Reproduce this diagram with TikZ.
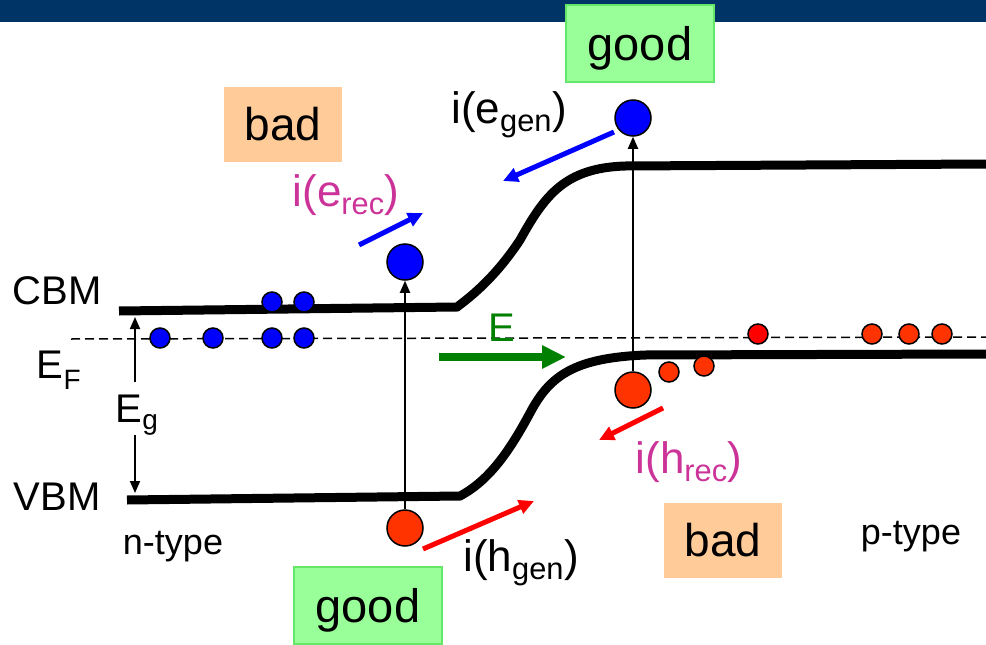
\documentclass[tikz,border=0pt]{standalone}
\usepackage{fontspec}
\setmainfont{Liberation Sans}
\usetikzlibrary{positioning,calc}
\usetikzlibrary{arrows.meta}
\definecolor{BarNavy}{RGB}{0,51,102}
\definecolor{ElecBlue}{RGB}{0,0,255}
\definecolor{HoleRed}{RGB}{255,51,0}
\definecolor{CurRed}{RGB}{255,0,0}
\definecolor{RecPink}{RGB}{204,51,153}
\definecolor{FieldGreen}{RGB}{0,128,0}
\definecolor{GoodFill}{RGB}{153,255,153}
\definecolor{GoodLine}{RGB}{102,230,102}
\definecolor{BadFill}{RGB}{255,204,153}
\tikzset{
  band/.style={draw=black,line width=9pt},
  fermi/.style={draw=black,line width=1.5pt,dash pattern=on 9pt off 5pt},
  elec/.style={circle,draw=black,fill=ElecBlue,line width=1.5pt,minimum size=36pt,inner sep=0pt},
  selec/.style={elec,minimum size=20pt},
  hole/.style={elec,fill=HoleRed},
  shole/.style={hole,minimum size=20pt},
  excite/.style={draw=black,line width=1.8pt,-{Triangle[length=12pt,width=10pt]}},
}
\tikzset{lab/.style={inner sep=0pt,font=\fontsize{40}{44}\selectfont},
  clab/.style={inner sep=0pt,font=\fontsize{44}{48}\selectfont},
  typelab/.style={inner sep=0pt,font=\fontsize{36}{40}\selectfont},
  goodbox/.style={draw=GoodLine,line width=2pt,fill=GoodFill,minimum width=148pt,minimum height=77pt,inner sep=0pt,
    text height=39pt,text depth=4pt,font=\fontsize{47}{50}\selectfont},
  badbox/.style={fill=BadFill,minimum width=118pt,minimum height=75pt,inner sep=0pt,font=\fontsize{46}{50}\selectfont},
  ecur/.style={draw=ElecBlue,line width=5pt,-{Triangle[length=15pt,width=14pt]}},
  hcur/.style={ecur,draw=CurRed},
  field/.style={draw=FieldGreen,line width=8pt,-{Triangle[length=24pt,width=22pt]}}}

\begin{document}
\begin{tikzpicture}[x=1pt,y=-1pt]
\useasboundingbox (0,0) rectangle (986,645);
\fill[BarNavy] (0,0) rectangle (986,22);
% bands
\draw[fermi] (71,339) -- (986,337);
\draw[band] (119,311) -- (457,307) .. controls (480,290) and (500,270) .. (520,240)
  .. controls (545,195) and (565,168) .. (625,166) -- (986,164);
\draw[band] (127,500) -- (460,496) .. controls (490,480) and (510,450) .. (530,413)
  .. controls (550,375) and (575,358) .. (645,355) -- (986,354);
\node[lab] (cbm) at (57,291) {CBM};
\node[lab] (vbm) at (57,497) {VBM};
\node[lab] (ef) at (59,370) {E\textsubscript{F}};
\node[lab] (eg) at (137,415) {E\textsubscript{g}};
\coordinate (egtop) at (135,317);
\coordinate (egbot) at (135,493);
\coordinate (egu) at (135,382);
\coordinate (egl) at (135,435);
\draw[excite] (egu) -- (egtop);
\draw[excite] (egl) -- (egbot);
% carriers
\foreach \x/\y [count=\i] in {160/338,213/338,272/338,304/338,272/302,304/302}
  \node[selec] (ne\i) at (\x,\y) {};
\foreach \x/\y [count=\i] in {669/372,704/366,872/334,909/334,942/334}
  \node[shole] (ph\i) at (\x,\y) {};
\node[shole,fill=CurRed] (ph6) at (758,334) {};
\node[elec] (ecb) at (405,262) {};
\node[elec] (ect) at (633,118) {};
\node[hole] (hvb) at (405,528) {};
\node[hole] (hvt) at (633,390) {};
\draw[excite] (hvb) -- (ecb);
\draw[excite] (hvt) -- (ect);
% currents
\coordinate (egs) at (614,132);
\coordinate (ege) at (503,181);
\coordinate (ers) at (359,245);
\coordinate (ere) at (423,213);
\coordinate (hgs) at (423,549);
\coordinate (hge) at (534,501);
\coordinate (hrs) at (663,408);
\coordinate (hre) at (599,440);
\draw[ecur] (egs) -- (ege);
\draw[ecur] (ers) -- (ere);
\draw[hcur] (hgs) -- (hge);
\draw[hcur] (hrs) -- (hre);
\node[clab] (legen) at (509,115) {i(e\textsubscript{gen})};
\node[clab,text=RecPink] (lerec) at (346,195) {i(e\textsubscript{rec})};
\node[clab,text=RecPink] (lhrec) at (689,462) {i(h\textsubscript{rec})};
\node[clab] (lhgen) at (521,563) {i(h\textsubscript{gen})};
% field
\coordinate (fs) at (439,357);
\coordinate (fe) at (566,357);
\draw[field] (fs) -- (fe);
\node[lab,text=FieldGreen] (lfield) at (502,328) {E};
% boxes
\node[goodbox] (goodt) at (640,43) {good};
\node[goodbox] (goodb) at (368,605) {good};
\node[badbox] (badt) at (283,124) {bad};
\node[badbox] (badb) at (723,540) {bad};
\node[typelab] (ntype) at (173,547) {n-type};
\node[typelab] (ptype) at (911,537) {p-type};
\end{tikzpicture}
\end{document}
